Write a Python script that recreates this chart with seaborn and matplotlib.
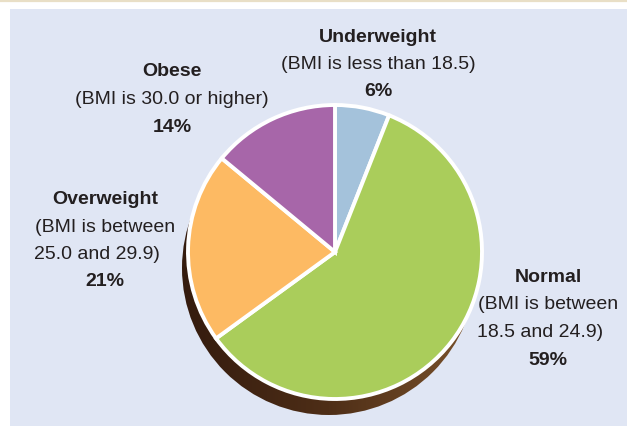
import seaborn as sns
import matplotlib.pyplot as plt
import matplotlib.patches as mpatches
from matplotlib.colors import LinearSegmentedColormap
import numpy as np

# Data
categories = ['Underweight', 'Normal', 'Overweight', 'Obese']
percents = [6, 59, 21, 14]
descriptions = [
    ['(BMI is less than 18.5)'],
    ['(BMI is between', '18.5 and 24.9)'],
    ['(BMI is between', '25.0 and 29.9)'],
    ['(BMI is 30.0 or higher)'],
]
slice_colors = ['#A4C2DB', '#AACD5B', '#FDBA63', '#A766A9']

sns.set_theme(style='white')
plt.rcParams['font.family'] = ['Liberation Sans Narrow', 'Liberation Sans', 'DejaVu Sans']

W, H = 627, 426
fig = plt.figure(figsize=(W / 100, H / 100), dpi=100)
fig.patch.set_facecolor('white')
ax = fig.add_axes([0, 0, 1, 1])
ax.set_xlim(0, W)
ax.set_ylim(0, H)
ax.axis('off')

# Background panel and top rule
ax.add_patch(mpatches.Rectangle((10, 0), W - 10, H - 9, facecolor='#E0E6F4', edgecolor='none', zorder=0))
ax.plot([0, W], [H - 0.8, H - 0.8], color='#E9DFC6', lw=1.6, zorder=0)

# Pie geometry
cx, cy, r = 335, H - 252, 147

# Brown shadow with horizontal gradient
shadow = mpatches.Circle((cx - 6, cy - 16), r, facecolor='none', edgecolor='none')
ax.add_patch(shadow)
brown = LinearSegmentedColormap.from_list('brown', ['#341B0E', '#4E2E17', '#7A522B'])
grad = np.linspace(0, 1, 256).reshape(1, -1)
img = ax.imshow(grad, cmap=brown, aspect='auto', zorder=1,
                extent=(cx - 6 - r, cx - 6 + r, cy - 16 - r, cy - 16 + r))
img.set_clip_path(shadow)

ax.pie(percents, colors=slice_colors, startangle=90, counterclock=False,
       center=(cx, cy), radius=r, frame=True,
       wedgeprops=dict(edgecolor='white', linewidth=2.8, zorder=2))
ax.set_xlim(0, W)
ax.set_ylim(0, H)
ax.set_aspect('equal')
ax.axis('off')

# Label blocks: (x centre, y of first line, line step)
label_pos = {
    'Underweight': (378, 38, 26.5),
    'Normal': (548, 277, 27.8),
    'Overweight': (105, 200, 27.3),
    'Obese': (172, 72, 27.5),
}
txt = '#231F20'
fs = 14
for cat, pct, desc in zip(categories, percents, descriptions):
    x, y0, step = label_pos[cat]
    lines = [(cat, 'bold')] + [(d, 'normal') for d in desc] + [(f'{pct}%', 'bold')]
    for i, (s, w) in enumerate(lines):
        xx = x
        if s.endswith('.9)'):
            xx = x - 8
        ax.text(xx, H - (y0 + i * step), s, ha='center', va='center',
                fontsize=fs, fontweight=w, color=txt, zorder=5)

fig.savefig('out.png', dpi=100)
